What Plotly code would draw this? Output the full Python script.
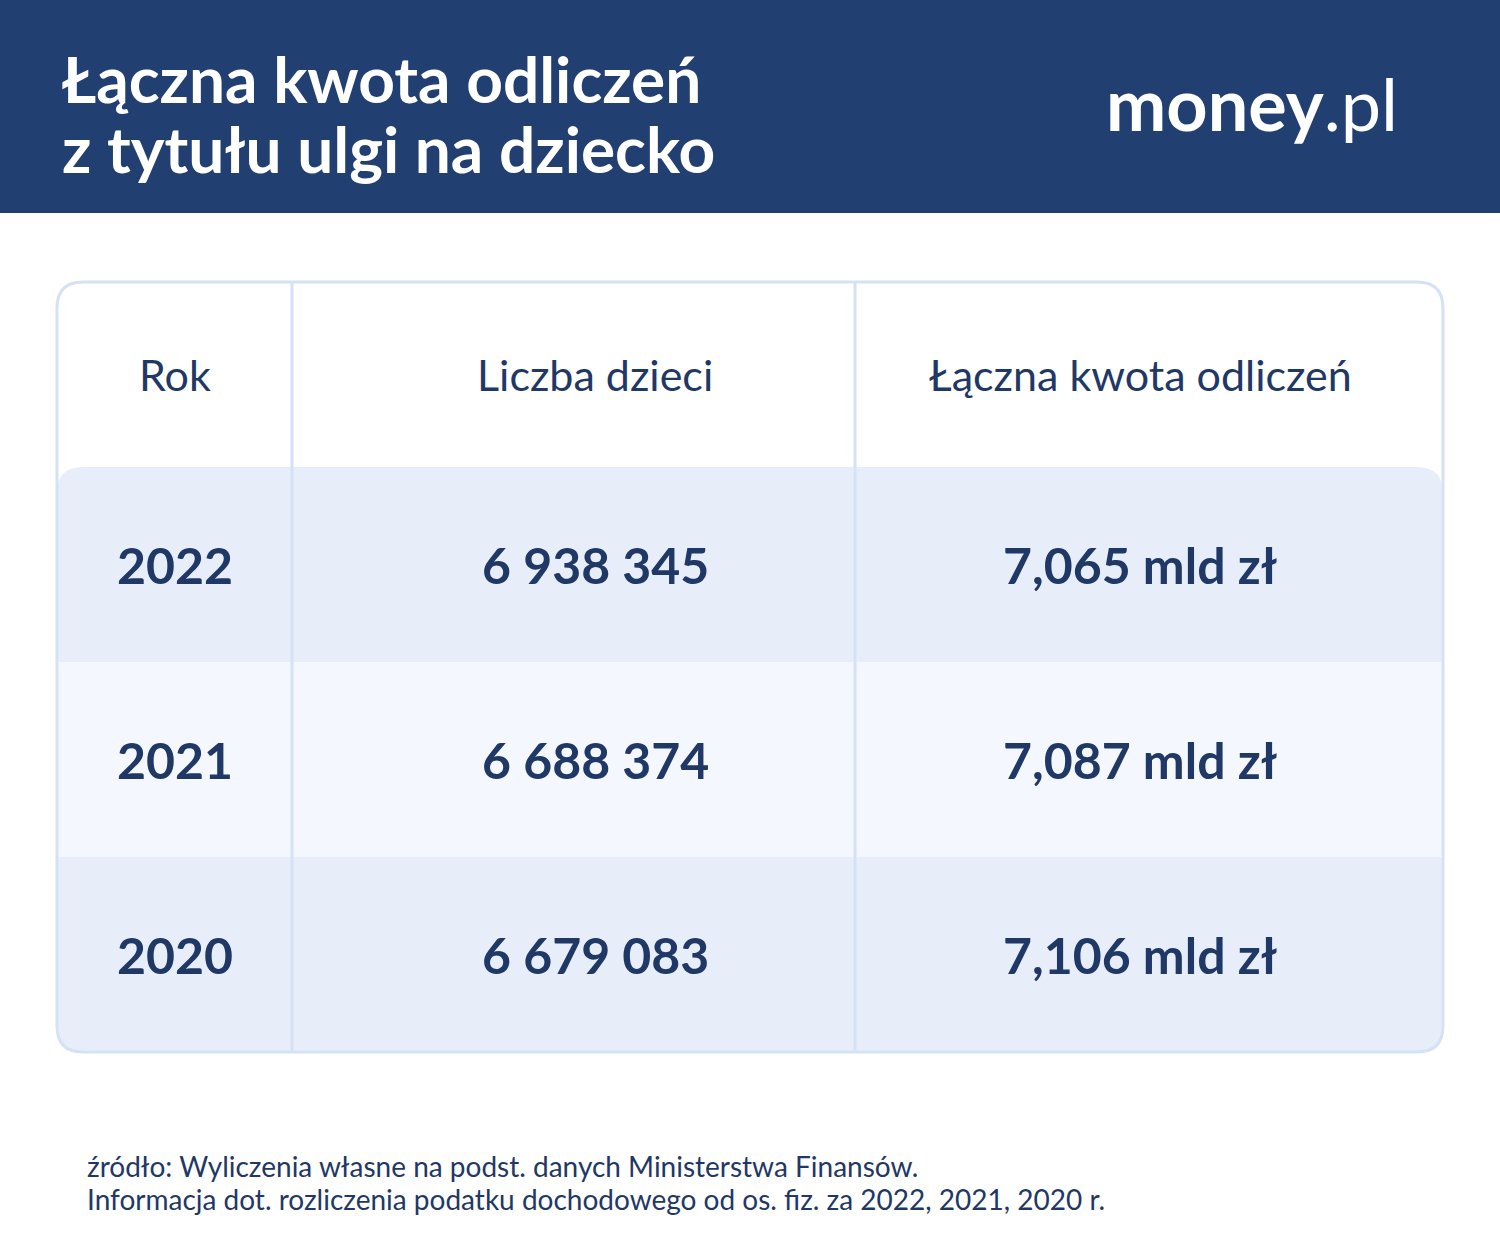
import plotly.graph_objects as go

title_lines = ["Łączna kwota odliczeń", "z tytułu ulgi na dziecko"]
headers = ["Rok", "Liczba dzieci", "Łączna kwota odliczeń"]
years = ["2022", "2021", "2020"]
children = ["6 938 345", "6 688 374", "6 679 083"]
amounts = ["7,065 mld zł", "7,087 mld zł", "7,106 mld zł"]
source = ["źródło: Wyliczenia własne na podst. danych Ministerstwa Finansów.",
          "Informacja dot. rozliczenia podatku dochodowego od os. fiz. za 2022, 2021, 2020 r."]

W, H = 1500, 1260
NAVY = "#223f72"
TXT = "#1f3866"
BORDER = "#d5e1f5"
ROW_DARK = "#e7eef9"
ROW_LIGHT = "#f4f7fd"
FONT = "Lato"

# table geometry
L, R, T, B = 57, 1443, 282, 1052
HEAD_B = 467
ROW_H = (B - HEAD_B) / 3
COL_X = [L, 292, 855, R]
COL_C = [175, 595, 1140]
RAD = 26


def rpath(x0, y0, x1, y1, rt, rb):
    return (f"M{x0+rt},{y0} L{x1-rt},{y0} Q{x1},{y0} {x1},{y0+rt} "
            f"L{x1},{y1-rb} Q{x1},{y1} {x1-rb},{y1} L{x0+rb},{y1} "
            f"Q{x0},{y1} {x0},{y1-rb} L{x0},{y0+rt} Q{x0},{y0} {x0+rt},{y0} Z")


fig = go.Figure()
shapes = [dict(type="rect", x0=0, x1=W, y0=0, y1=213, fillcolor=NAVY, line_width=0, layer="below"),
          dict(type="path", path=rpath(L, T, R, B, RAD, RAD), fillcolor="white", line_width=0, layer="below")]
fills = [ROW_DARK, ROW_LIGHT, ROW_DARK]
for i, c in enumerate(fills):
    y0 = HEAD_B + i * ROW_H
    shapes.append(dict(type="path", path=rpath(L, y0, R, y0 + ROW_H, RAD if i == 0 else 0, RAD if i == 2 else 0),
                       fillcolor=c, line_width=0, layer="below"))
for x in COL_X[1:3]:
    shapes.append(dict(type="line", x0=x, x1=x, y0=T, y1=B, line=dict(color=BORDER, width=3), layer="below"))
shapes.append(dict(type="path", path=rpath(L, T, R, B, RAD, RAD), fillcolor="rgba(0,0,0,0)",
                   line=dict(color=BORDER, width=3), layer="below"))

ann = []
for i, t in enumerate(title_lines):
    ann.append(dict(x=60, y=78 + i * 70, text=t, xanchor="left", yanchor="middle",
                    font=dict(family=FONT, size=64, color="white", weight="bold")))
ann.append(dict(x=1400, y=103, text="<b>money</b>.pl", xanchor="right", yanchor="middle",
                font=dict(family=FONT, size=72, color="white")))
for c, h in zip(COL_C, headers):
    ann.append(dict(x=c, y=(T + HEAD_B) / 2, text=h, xanchor="center", yanchor="middle",
                    font=dict(family=FONT, size=43, color=TXT)))
for i in range(3):
    yc = HEAD_B + (i + 0.5) * ROW_H
    for c, v in zip(COL_C, [years[i], children[i], amounts[i]]):
        ann.append(dict(x=c, y=yc, text=v, xanchor="center", yanchor="middle",
                        font=dict(family=FONT, size=50, color=TXT, weight="bold")))
for i, s in enumerate(source):
    ann.append(dict(x=85, y=1166 + i * 33, text=s, xanchor="left", yanchor="middle",
                    font=dict(family=FONT, size=28, color=TXT)))
for a in ann:
    a.update(xref="x", yref="y", showarrow=False)

fig.update_layout(width=W, height=H, margin=dict(l=0, r=0, t=0, b=0),
                  paper_bgcolor="white", plot_bgcolor="white", shapes=shapes, annotations=ann,
                  xaxis=dict(range=[0, W], visible=False, fixedrange=True),
                  yaxis=dict(range=[H, 0], visible=False, fixedrange=True),
                  showlegend=False)
fig.write_html("out.html", config={"displayModeBar": False},
               post_script="document.body.style.margin='0';")
